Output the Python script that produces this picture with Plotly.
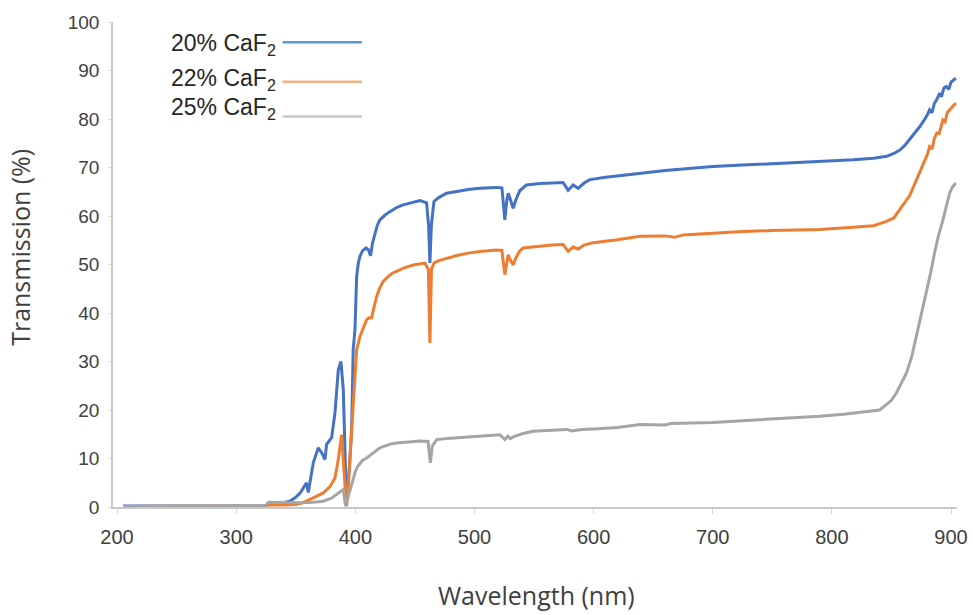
import plotly.graph_objects as go

# ---------------- data ----------------
wl_20 = [205, 250, 300, 325, 327, 335, 345, 350, 354, 357.7, 359, 360.5, 362, 364.7, 368.9,
         371.7, 374.5, 375.9, 380.1, 382.9, 385.7, 387.9, 389.9, 392.1, 393.5, 395, 396.9,
         398.2, 399.7, 401.1, 402.5, 403.9, 406, 408.9, 411, 412.8, 414.5, 416.4, 418.5, 420.6,
         423, 425, 429, 432, 435,
         440.2, 447, 454.2, 459.8, 461.5, 462.6, 463.8, 466, 470, 476.6, 485, 496.1, 504.5,
         518.5, 523, 525.5, 527, 528.3, 530, 532.5, 535, 538, 543.7, 555, 565, 574.4, 578.6,
         582.8, 587, 592, 596.8, 610, 625, 638.8, 660, 680, 700, 725, 750, 775, 790, 800, 818,
         835, 846, 852, 857, 861, 865, 869, 873.7, 877, 880, 882, 884, 886, 888, 890.4, 892,
         894, 896, 898, 900, 904]
t_20 = [0.2, 0.2, 0.2, 0.2, 0.5, 0.7, 1.2, 2.0, 3.0, 4.6, 5.0, 3.0, 5.5, 9.1, 12.2,
        11.2, 9.8, 12.9, 14.3, 19.4, 28.3, 30.0, 24.2, 4.3, 3.5, 8.0, 16.0,
        32.4, 36.6, 47.5, 50.3, 51.7, 52.8, 53.4, 53.0, 51.8, 54.5, 56.5, 58.1, 59.2,
        59.8, 60.2, 60.9, 61.4, 61.8,
        62.3, 62.8, 63.2, 62.7, 58.0, 50.3, 58.0, 63.0, 63.8, 64.7, 65.1, 65.5, 65.7,
        65.9, 65.8, 59.2, 63.0, 64.7, 63.5, 61.6, 63.5, 65.2, 66.4, 66.7, 66.8, 66.9, 65.3,
        66.4, 65.7, 66.8, 67.5, 68.0, 68.4, 68.8, 69.4, 69.8, 70.2, 70.5, 70.8, 71.1, 71.2, 71.4, 71.6,
        71.9, 72.3, 72.9, 73.6, 74.5, 75.7, 76.8, 78.4, 79.6, 80.8, 81.9, 81.3, 83.2, 84.0, 85.3, 84.6,
        86.4, 86.7, 86.1, 87.6, 88.4]

wl_22 = [205, 250, 300, 325, 327, 340, 350, 355, 360, 364.7, 369, 373.1, 378.7, 382.9, 385.7,
         388.5, 390.4, 392.7, 394, 396.9, 399, 401.1, 403.9, 406.6, 409.5, 411.5, 413.7, 415.5,
         417.9, 420.5, 423.4, 428, 431, 434.6, 441, 448.6, 458.4, 461.3, 462.6, 463.9, 466, 470,
         476.6, 486, 496.1, 504.5,
         518.5, 523, 525.5, 527, 528.3, 530, 532.5, 535, 538, 540.9, 555, 565, 574.4, 578.6,
         582.8, 587, 592, 599.6, 620, 638.8, 660, 668, 675, 700, 725, 750, 770, 789.8, 817.7,
         835, 845.7, 852, 856.9, 861, 865.3, 869, 873.7, 877, 880, 882, 884, 886, 888, 890,
         893.2, 895, 897, 898.8, 901, 904]
t_22 = [0.1, 0.2, 0.2, 0.2, 0.4, 0.4, 0.5, 0.8, 1.3, 1.9, 2.4, 2.9, 4.2, 6.0, 9.8,
        14.9, 7.7, 0.2, 4.3, 16.0, 25.0, 32.4, 35.2, 36.8, 38.6, 39.0, 39.0, 41.0,
        43.4, 45.2, 46.5, 47.6, 48.2, 48.6, 49.3, 49.9, 50.3, 49.0, 33.8, 49.0, 50.3, 50.8,
        51.3, 51.9, 52.4, 52.7,
        53.0, 52.9, 47.9, 50.5, 52.0, 51.0, 49.9, 51.5, 52.8, 53.4, 53.8, 54.0, 54.1, 52.7,
        53.6, 53.2, 54.0, 54.5, 55.1, 55.8, 55.9, 55.6, 56.1, 56.5, 56.8, 57.0, 57.1, 57.2, 57.7,
        58.0, 58.9, 59.6, 61.3, 62.6, 64.2, 66.3, 68.8, 70.9, 72.6, 74.3, 73.8, 76.0, 77.1, 77.0,
        79.8, 79.4, 81.4, 81.9, 82.3, 83.3]

wl_25 = [205, 250, 300, 325, 327, 340, 355, 365, 373, 380, 384.3, 387, 389.9, 391.8, 394, 396,
         398.2, 400, 402, 403.9, 406, 409.5, 412, 415, 418, 420.6, 424, 427, 430, 434.6, 445,
         454.2, 461, 463, 464.5, 468.2, 480, 490,
         504.5, 521.3, 525.5, 528, 530, 533, 540, 549.2, 565, 577.3, 582, 590, 600, 620, 638.8,
         660, 665, 680, 700, 725, 750, 770, 789.8, 810, 831.7, 840, 845.7, 850, 854.1, 858,
         862.5, 867, 870.9, 875, 879.3, 883, 886.2, 889.5, 893.2, 896, 898.8, 901, 904]
t_25 = [0.1, 0.2, 0.2, 0.3, 1.0, 0.9, 0.9, 1.0, 1.2, 1.8, 2.6, 3.0, 3.6, 0.2, 2.2, 4.0,
        5.7, 7.3, 8.4, 9.1, 9.6, 10.1, 10.6, 11.2, 11.8, 12.2, 12.5, 12.8, 13.0, 13.2, 13.4,
        13.6, 13.5, 9.1, 12.5, 13.9, 14.2, 14.4,
        14.6, 14.9, 13.9, 14.6, 14.1, 14.5, 15.1, 15.6, 15.8, 16.0, 15.7, 16.0, 16.1, 16.4, 17.0,
        16.9, 17.2, 17.3, 17.4, 17.8, 18.1, 18.4, 18.7, 19.1, 19.7, 20.0, 21.1, 22.0, 23.5, 25.3,
        27.6, 31.0, 35.2, 39.5, 44.1, 48.4, 52.4, 56.0, 59.2, 62.0, 64.7, 65.9, 66.8]

series_names = ["20% CaF<sub>2</sub>", "22% CaF<sub>2</sub>", "25% CaF<sub>2</sub>"]
x_ticks = [200, 300, 400, 500, 600, 700, 800, 900]
y_ticks = [0, 10, 20, 30, 40, 50, 60, 70, 80, 90, 100]

# ---------------- styles ----------------
line_colors = ["#4472c4", "#ed7d31", "#a5a5a5"]
legend_colors = ["#5b9bd5", "#f4b183", "#c9c9c9"]
text_color = "#404040"
axis_color = "#c8c8c8"

fig = go.Figure()
for wl, t, name, col in zip([wl_20, wl_22, wl_25], [t_20, t_22, t_25], series_names, line_colors):
    fig.add_trace(go.Scatter(x=wl, y=t, mode="lines", name=name,
                             line=dict(color=col, width=3), showlegend=False))

# legend drawn as text with line sample to the right (as in the reference)
legend_y_text = [0.953, 0.881, 0.822]
legend_y_line = [0.958, 0.877, 0.805]
for name, ly_t, ly_l, col in zip(series_names, legend_y_text, legend_y_line, legend_colors):
    fig.add_annotation(text=name, xref="paper", yref="paper", x=0.196, y=ly_t,
                       xanchor="right", yanchor="middle", showarrow=False,
                       font=dict(family="Liberation Sans, Arial", size=23, color="#262626"))
    fig.add_shape(type="line", xref="paper", yref="paper", x0=0.201, x1=0.295,
                  y0=ly_l, y1=ly_l, line=dict(color=col, width=2.5))

# axis titles
fig.add_annotation(text="Wavelength (nm)", xref="paper", yref="paper", x=0.502, y=-0.182,
                   xanchor="center", yanchor="middle", showarrow=False,
                   font=dict(family="Open Sans", size=25, color=text_color))
fig.add_annotation(text="Transmission (%)", xref="paper", yref="paper", x=-0.111, y=0.535,
                   xanchor="center", yanchor="middle", showarrow=False, textangle=-90,
                   font=dict(family="Open Sans", size=25, color=text_color))

fig.update_layout(
    width=973, height=615,
    margin=dict(l=113, r=16, t=22, b=107.5),
    paper_bgcolor="white", plot_bgcolor="white",
    showlegend=False,
    xaxis=dict(range=[196.6, 905], tickvals=x_ticks, showgrid=False, zeroline=False,
               automargin=False,
               showline=True, linecolor=axis_color, linewidth=1.5,
               ticks="outside", ticklen=5, tickcolor="#d9d9d9", tickwidth=1,
               ticklabelstandoff=6,
               tickfont=dict(family="Liberation Sans, Arial", size=20, color=text_color)),
    yaxis=dict(range=[0, 100], tickvals=y_ticks, showgrid=False, zeroline=False,
               automargin=False,
               showline=True, linecolor=axis_color, linewidth=1.5,
               ticks="outside", ticklen=3, tickcolor="#d9d9d9", tickwidth=1,
               ticklabelstandoff=5,
               tickfont=dict(family="Liberation Sans, Arial", size=19, color=text_color)),
)

# remove the browser's default 8 px page margin so the figure fills the window exactly
fig.write_html("out.html", config={"displayModeBar": False},
               post_script="document.body.style.margin='0';")
